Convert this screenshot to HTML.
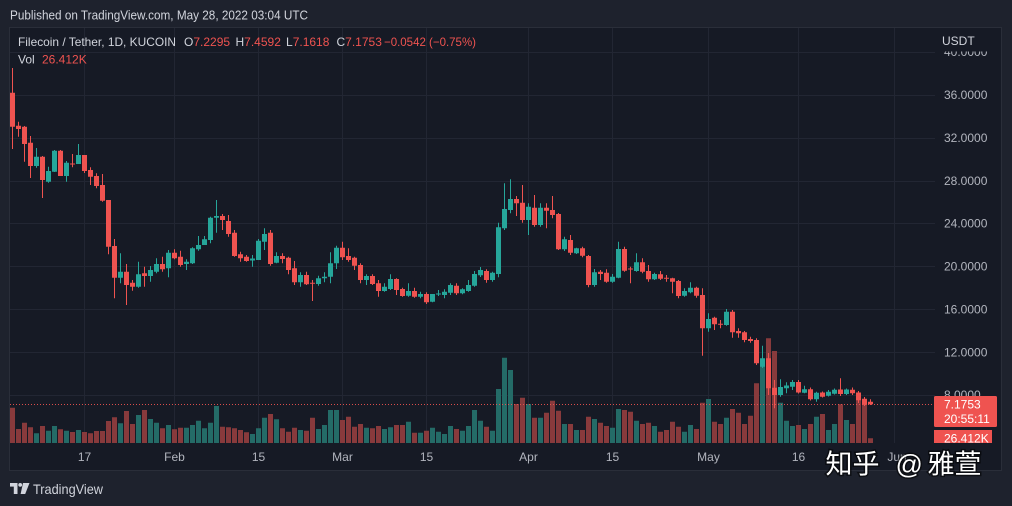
<!DOCTYPE html>
<html><head><meta charset="utf-8">
<style>
html,body{margin:0;padding:0;background:#1e222d;width:1012px;height:506px;overflow:hidden}
svg{display:block}
text{font-family:"Liberation Sans",Arial,sans-serif}
</style></head><body>
<svg width="1012" height="506" viewBox="0 0 1012 506" xmlns="http://www.w3.org/2000/svg">
<defs><clipPath id="plot"><rect x="10" y="28" width="925" height="415"/></clipPath></defs>
<rect width="1012" height="506" fill="#1e222d"/>
<text x="10" y="19.5" font-size="12.5" fill="#d1d4dc" textLength="298" lengthAdjust="spacingAndGlyphs">Published on TradingView.com, May 28, 2022 03:04 UTC</text>
<rect x="9.5" y="27.5" width="992" height="443" fill="#161a25" stroke="#2a2e39"/>
<g stroke="#222633" stroke-width="1">
<path d="M10 52.5H935M10 95.5H935M10 138.5H935M10 181.5H935M10 223.5H935M10 266.5H935M10 309.5H935M10 352.5H935M10 395.5H935"/>
<path d="M84.5 28V443M174.5 28V443M258.5 28V443M342.5 28V443M426.5 28V443M528.5 28V443M612.5 28V443M708.5 28V443M798.5 28V443M894.5 28V443"/>
</g>
<g clip-path="url(#plot)">
<path fill="#883a3c" d="M10 407.7h5V443h-5z M16 429h5V443h-5z M22 422.7h5V443h-5z M28 427.3h5V443h-5z M40 426h5V443h-5z M58 429.3h5V443h-5z M70 432h5V443h-5z M82 432h5V443h-5z M88 433.3h5V443h-5z M94 431h5V443h-5z M100 431h5V443h-5z M106 421h5V443h-5z M112 417.3h5V443h-5z M124 411h5V443h-5z M130 424h5V443h-5z M142 410h5V443h-5z M160 428.3h5V443h-5z M172 429.3h5V443h-5z M178 427.7h5V443h-5z M220 426.7h5V443h-5z M226 427.3h5V443h-5z M232 428.3h5V443h-5z M238 430h5V443h-5z M244 432.3h5V443h-5z M268 414h5V443h-5z M280 428.3h5V443h-5z M286 431.7h5V443h-5z M292 427.7h5V443h-5z M304 430.7h5V443h-5z M310 417.7h5V443h-5z M340 420h5V443h-5z M346 416.7h5V443h-5z M352 426.7h5V443h-5z M358 424h5V443h-5z M370 428.3h5V443h-5z M376 426h5V443h-5z M394 425h5V443h-5z M400 425h5V443h-5z M412 432.7h5V443h-5z M424 430.7h5V443h-5z M454 429h5V443h-5z M484 426.7h5V443h-5z M514 404h5V443h-5z M520 397.7h5V443h-5z M532 417.7h5V443h-5z M544 412.7h5V443h-5z M550 400.7h5V443h-5z M556 410.7h5V443h-5z M568 424h5V443h-5z M580 430h5V443h-5z M586 416.7h5V443h-5z M598 422.7h5V443h-5z M604 426h5V443h-5z M622 410h5V443h-5z M628 411.7h5V443h-5z M640 424h5V443h-5z M646 422.7h5V443h-5z M658 431.7h5V443h-5z M664 430h5V443h-5z M670 421.7h5V443h-5z M676 426.7h5V443h-5z M694 429h5V443h-5z M700 402.7h5V443h-5z M712 421.7h5V443h-5z M718 424h5V443h-5z M730 409h5V443h-5z M736 412.7h5V443h-5z M742 424h5V443h-5z M748 415.7h5V443h-5z M754 383.3h5V443h-5z M766 338.3h5V443h-5z M772 351h5V443h-5z M796 425h5V443h-5z M808 424h5V443h-5z M820 414h5V443h-5z M838 404.3h5V443h-5z M850 424h5V443h-5z M856 393.3h5V443h-5z M862 403.3h5V443h-5z M868 438.3h5V443h-5z"/>
<path fill="#246b67" d="M34 433.3h5V443h-5z M46 430.7h5V443h-5z M52 426h5V443h-5z M64 430.7h5V443h-5z M76 430h5V443h-5z M118 423.3h5V443h-5z M136 415h5V443h-5z M148 419h5V443h-5z M154 422.7h5V443h-5z M166 425h5V443h-5z M184 427.7h5V443h-5z M190 425h5V443h-5z M196 420.7h5V443h-5z M202 428.3h5V443h-5z M208 422.7h5V443h-5z M214 406h5V443h-5z M250 434h5V443h-5z M256 428.3h5V443h-5z M262 417.7h5V443h-5z M274 419.3h5V443h-5z M298 430h5V443h-5z M316 429h5V443h-5z M322 425h5V443h-5z M328 410h5V443h-5z M334 410h5V443h-5z M364 427.7h5V443h-5z M382 429h5V443h-5z M388 427.3h5V443h-5z M406 421.7h5V443h-5z M418 432.7h5V443h-5z M430 427.7h5V443h-5z M436 431.7h5V443h-5z M442 434h5V443h-5z M448 426h5V443h-5z M460 430.7h5V443h-5z M466 426h5V443h-5z M472 410h5V443h-5z M478 420.7h5V443h-5z M490 430.7h5V443h-5z M496 389h5V443h-5z M502 357.7h5V443h-5z M508 370h5V443h-5z M526 404h5V443h-5z M538 417.7h5V443h-5z M562 424h5V443h-5z M574 430h5V443h-5z M592 419h5V443h-5z M610 427.7h5V443h-5z M616 409h5V443h-5z M634 420.7h5V443h-5z M652 426h5V443h-5z M682 431.7h5V443h-5z M688 425h5V443h-5z M706 399h5V443h-5z M724 417.7h5V443h-5z M760 359h5V443h-5z M778 402.7h5V443h-5z M784 420.7h5V443h-5z M790 426h5V443h-5z M802 429h5V443h-5z M814 416.7h5V443h-5z M826 430h5V443h-5z M832 424h5V443h-5z M844 420h5V443h-5z"/>
<path d="M10 404.5H935" stroke="#ef5350" stroke-width="1" stroke-dasharray="1 2" opacity="0.9"/>
<path fill="none" stroke="#ef5350" stroke-width="1" d="M12.5 68V149 M18.5 121.7V136.7 M24.5 126V161.7 M30.5 136V178 M42.5 156V198 M60.5 150V176 M72.5 154V167.3 M84.5 155V173 M90.5 167.3V185 M96.5 173.3V188.3 M102.5 174V201.7 M108.5 200V254.3 M114.5 239V298.3 M126.5 264V305 M132.5 280V290.7 M144.5 266.7V286.7 M162.5 256.7V271.7 M174.5 249.3V259.3 M180.5 250.7V266.7 M222.5 214V230 M228.5 215V236.7 M234.5 230V256.7 M240.5 251.7V261.7 M246.5 255V261.7 M270.5 230V265.7 M282.5 253.3V263.3 M288.5 256.7V274.3 M294.5 261V285 M306.5 271.7V285 M312.5 280V301 M342.5 241.7V260 M348.5 248.3V261.7 M354.5 256.7V270 M360.5 263.3V283.3 M372.5 274.3V285 M378.5 280V296.7 M396.5 278.3V295 M402.5 287.7V296.7 M414.5 287.7V297.7 M426.5 292.3V304 M456.5 283.3V295 M486.5 269.3V282.7 M516.5 196V216 M522.5 185V222.7 M534.5 195V226.7 M546.5 203.3V228.3 M552.5 196V218.3 M558.5 213V250 M570.5 235V255 M582.5 246.7V257.3 M588.5 255V287.3 M600.5 270V280 M606.5 269.3V282.7 M624.5 246.7V271.7 M630.5 266.7V283.3 M642.5 258.3V273.3 M648.5 265V281.7 M660.5 271V280 M666.5 275V281.7 M672.5 277.7V293.3 M678.5 280V298.3 M696.5 286.7V297.7 M702.5 288.3V355.7 M714.5 316.7V330 M720.5 320V328.3 M732.5 310V337.7 M738.5 328.3V337.7 M744.5 331V342.3 M750.5 336.7V342.7 M756.5 338.3V365 M768.5 353V395 M774.5 380V408.3 M798.5 380V393.5 M810.5 387.5V400.5 M822.5 391.5V397.5 M840.5 378.3V396 M852.5 387.5V395 M858.5 391V403 M864.5 397V406 M870.5 399.3V405"/>
<path fill="#ef5350" d="M10 92.7h5V126.7h-5z M16 125.7h5V129h-5z M22 126.7h5V144h-5z M28 142.7h5V166h-5z M40 156.7h5V180h-5z M58 150.7h5V176h-5z M70 163.5h5V164.5h-5z M82 155h5V171h-5z M88 170h5V176.7h-5z M94 176h5V186h-5z M100 185h5V200.7h-5z M106 200h5V246.7h-5z M112 246h5V277.7h-5z M124 271.7h5V285h-5z M130 282.7h5V286.7h-5z M142 273.3h5V276h-5z M160 264h5V269.3h-5z M172 252.7h5V258.3h-5z M178 256.7h5V265h-5z M220 216h5V220h-5z M226 221h5V234h-5z M232 232.7h5V256h-5z M238 254.3h5V258.3h-5z M244 256.7h5V261h-5z M268 232.7h5V264h-5z M280 256h5V259h-5z M286 257.7h5V270h-5z M292 268.3h5V282.3h-5z M304 275h5V284.3h-5z M310 282.8h5V283.8h-5z M340 247.7h5V257.3h-5z M346 256h5V260h-5z M352 257.7h5V265.7h-5z M358 265h5V280h-5z M370 276h5V284h-5z M376 283.3h5V291h-5z M394 279h5V290h-5z M400 289h5V296h-5z M412 291h5V296.7h-5z M424 294h5V302.3h-5z M454 285.7h5V293.3h-5z M484 271h5V280h-5z M514 199h5V203.3h-5z M520 202.7h5V220h-5z M532 207.7h5V225h-5z M544 207.7h5V210.7h-5z M550 210h5V215h-5z M556 214h5V249.3h-5z M568 240h5V252.7h-5z M580 248.3h5V255.7h-5z M586 256h5V285h-5z M598 271.7h5V274h-5z M604 272.7h5V281.7h-5z M622 249h5V270.7h-5z M628 268.5h5V269.5h-5z M640 262.3h5V271.7h-5z M646 271h5V279.3h-5z M658 274.3h5V278.7h-5z M664 277.8h5V278.8h-5z M670 278.3h5V281.7h-5z M676 281h5V296h-5z M694 287.7h5V295.7h-5z M700 295h5V328.3h-5z M712 317.7h5V324.3h-5z M718 323.8h5V324.8h-5z M730 311.7h5V332.3h-5z M736 331h5V333.3h-5z M742 332.3h5V340h-5z M748 339h5V341h-5z M754 340h5V363.3h-5z M766 358.3h5V388.3h-5z M772 387.7h5V395h-5z M796 382h5V392.5h-5z M808 389.2h5V399.3h-5z M820 392.5h5V396.7h-5z M838 389.5h5V394h-5z M850 389.7h5V393.3h-5z M856 392.5h5V400.3h-5z M862 398.7h5V404.7h-5z M868 401.7h5V404.2h-5z"/>
<path fill="none" stroke="#26a69a" stroke-width="1" d="M36.5 148V167.7 M48.5 166.7V182.7 M54.5 150V172 M66.5 161V181.7 M78.5 144V164 M120.5 253.3V283.3 M138.5 261.7V287.7 M150.5 266V281.7 M156.5 258.3V273.3 M168.5 250V277.3 M186.5 259.3V270 M192.5 247.3V264 M198.5 236V250.7 M204.5 236V245 M210.5 216.7V243.3 M216.5 200V232.7 M252.5 255V266.7 M258.5 239V260 M264.5 228.3V250 M276.5 252.3V263.3 M300.5 272.3V286.7 M318.5 275.7V285.7 M324.5 272.3V282.3 M330.5 252.3V283.3 M336.5 245.7V269 M366.5 274.3V285 M384.5 283.3V291.7 M390.5 274.3V290 M408.5 283.3V296.7 M420.5 291.7V298.3 M432.5 294V302.3 M438.5 290V296 M444.5 289.3V298.3 M450.5 283.3V295 M462.5 288.3V294.3 M468.5 280V291.7 M474.5 271V286.7 M480.5 267V277 M492.5 271.7V281.7 M498.5 222.7V277.3 M504.5 183.3V230 M510.5 179.3V213.3 M528.5 203.3V235 M540.5 203.3V226.7 M564.5 236.7V251 M576.5 247.7V254 M594.5 269V286.7 M612.5 274V282.7 M618.5 241.7V278.3 M636.5 253.3V271.7 M654.5 272.7V280 M684.5 288.3V296.7 M690.5 282.3V293.3 M708.5 313.3V331.7 M726.5 309V325.7 M762.5 345.7V368 M780.5 379.3V396.7 M786.5 382.3V393.3 M792.5 380V390 M804.5 385.7V393.3 M816.5 391.7V401.7 M828.5 390V396.5 M834.5 388.5V394.5 M846.5 388.5V395"/>
<path fill="#26a69a" d="M34 156.7h5V166h-5z M46 171h5V181.7h-5z M52 150.7h5V171.7h-5z M64 162.7h5V176h-5z M76 155h5V164h-5z M118 271.7h5V277.7h-5z M136 274.3h5V286.7h-5z M148 270h5V276h-5z M154 264h5V271.7h-5z M166 252.7h5V268.3h-5z M184 261.7h5V264h-5z M190 248.3h5V263.3h-5z M196 245h5V249.3h-5z M202 239.3h5V245h-5z M208 217.7h5V240h-5z M214 216h5V217.7h-5z M250 258.5h5V260.5h-5z M256 240.7h5V260h-5z M262 234h5V241.7h-5z M274 256h5V262.7h-5z M298 275h5V282.3h-5z M316 278.3h5V284h-5z M322 276.7h5V278.3h-5z M328 263.3h5V276.7h-5z M334 247.7h5V263.3h-5z M364 276h5V280h-5z M382 286.7h5V291h-5z M388 279h5V289h-5z M406 291h5V295.7h-5z M418 294h5V296.7h-5z M430 294h5V301.7h-5z M436 293.5h5V294.5h-5z M442 291.7h5V295h-5z M448 285h5V292.7h-5z M460 289.3h5V293.3h-5z M466 285h5V291h-5z M472 274h5V285.7h-5z M478 270h5V275.3h-5z M490 272.7h5V280h-5z M496 227.3h5V274h-5z M502 209h5V228.3h-5z M508 199h5V210h-5z M526 206.7h5V220h-5z M538 207.7h5V225h-5z M562 239.3h5V249.3h-5z M574 248.3h5V253.3h-5z M592 272.3h5V285h-5z M610 276.7h5V281.7h-5z M616 249h5V277.7h-5z M634 262.3h5V271h-5z M652 274h5V279.3h-5z M682 291h5V295.7h-5z M688 287.7h5V292.3h-5z M706 319h5V328.3h-5z M724 311.7h5V325h-5z M760 358.3h5V366.7h-5z M778 387h5V395h-5z M784 385.5h5V388.3h-5z M790 382h5V386.7h-5z M802 389.2h5V392.7h-5z M814 392.7h5V399.3h-5z M826 391.7h5V395.8h-5z M832 389.7h5V393.7h-5z M844 389.5h5V394h-5z"/>
</g>
<!-- legend -->
<g font-size="12">
<text x="18" y="46" fill="#d1d4dc" textLength="158" lengthAdjust="spacingAndGlyphs">Filecoin / Tether, 1D, KUCOIN</text>
<text x="184" y="46" fill="#d1d4dc">O<tspan fill="#ef5350">7.2295</tspan></text>
<text x="235.5" y="46" fill="#d1d4dc">H<tspan fill="#ef5350">7.4592</tspan></text>
<text x="286" y="46" fill="#d1d4dc">L<tspan fill="#ef5350">7.1618</tspan></text>
<text x="336.5" y="46" fill="#d1d4dc">C<tspan fill="#ef5350">7.1753</tspan></text>
<text x="384" y="46" fill="#ef5350" textLength="92" lengthAdjust="spacingAndGlyphs">−0.0542 (−0.75%)</text>
<text x="18" y="63.5" fill="#d1d4dc">Vol</text>
<text x="42" y="63.5" fill="#ef5350">26.412K</text>
</g>
<!-- price axis -->
<g font-size="12" fill="#b2b5be">
<text x="944" y="56">40.0000</text>
<text x="944" y="99">36.0000</text>
<text x="944" y="142">32.0000</text>
<text x="944" y="185">28.0000</text>
<text x="944" y="227.6">24.0000</text>
<text x="944" y="270.5">20.0000</text>
<text x="944" y="313.4">16.0000</text>
<text x="944" y="356.3">12.0000</text>
<text x="944" y="399.2">8.0000</text>
</g>
<rect x="936" y="28" width="65" height="23.5" fill="#161a25"/>
<text x="942" y="45" font-size="12" fill="#d1d4dc">USDT</text>
<rect x="934" y="396" width="63" height="31" rx="1.5" fill="#ef5350"/>
<text x="944" y="408.5" font-size="12" fill="#ffffff">7.1753</text>
<text x="944" y="423" font-size="12" fill="#ffffff">20:55:11</text>
<rect x="934" y="430" width="58" height="13" fill="#ef5350"/>
<text x="944" y="442.3" font-size="12" fill="#ffffff">26.412K</text>
<!-- time axis -->
<g font-size="12" fill="#b2b5be" text-anchor="middle">
<text x="84.5" y="461">17</text>
<text x="174.5" y="461">Feb</text>
<text x="258.5" y="461">15</text>
<text x="342.5" y="461">Mar</text>
<text x="426.5" y="461">15</text>
<text x="528.5" y="461">Apr</text>
<text x="612.5" y="461">15</text>
<text x="708.5" y="461">May</text>
<text x="798.5" y="461">16</text>
<text x="897" y="461">Jun</text>
</g>
<!-- footer -->
<g fill="#d1d4dc">
<rect x="10" y="483" width="7.5" height="3.6"/>
<rect x="13.8" y="483" width="3.7" height="11"/>
<circle cx="20.2" cy="484.9" r="1.9"/>
<polygon points="23,483 29.5,483 25.2,494 20.6,494"/>
</g>
<text x="33" y="494" font-size="14" fill="#d1d4dc" textLength="70" lengthAdjust="spacingAndGlyphs">TradingView</text>
<!-- watermark -->
<g font-size="27" fill="#ffffff" stroke="rgba(0,0,0,0.55)" stroke-width="3" paint-order="stroke" style="font-family:'Liberation Sans','Noto Sans CJK SC',sans-serif">
<text x="825.5" y="473.5">知乎</text>
<text x="895.5" y="473.5">@</text>
<text x="927.5" y="473.5">雅萱</text>
</g>
</svg>
</body></html>
